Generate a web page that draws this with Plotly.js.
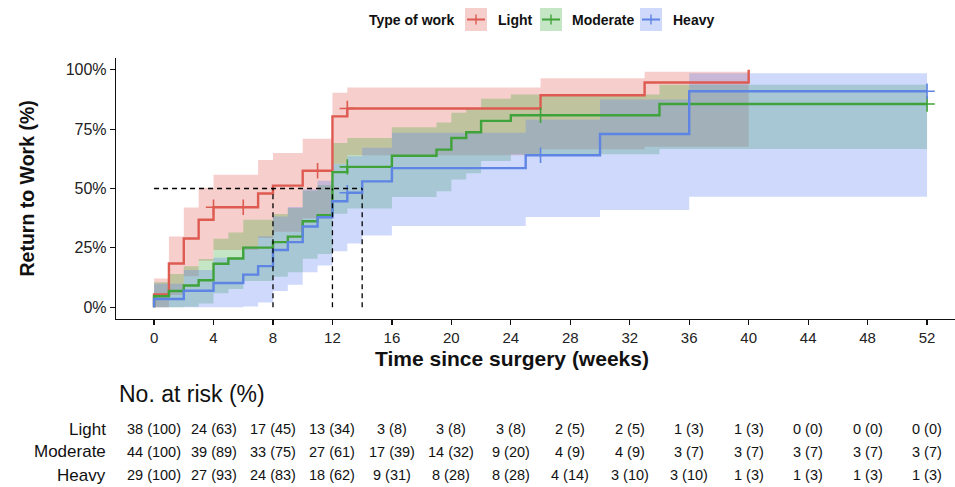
<!DOCTYPE html>
<html><head><meta charset="utf-8">
<script src="https://cdn.plot.ly/plotly-3.0.1.min.js"></script>
<style>html,body{margin:0;padding:0;background:#fff}#chart{width:955px;height:487px}</style>
</head><body><div id="chart"></div>
<script>
// ---- data ----
const groups = ['Light', 'Moderate', 'Heavy'];

// Kaplan-Meier (cumulative return to work, %) step points
const lightT = [0, 0, 1, 2, 3, 4, 7, 8, 10, 12, 13, 26, 33, 40];
const lightV = [0, 5.3, 18.4, 28.9, 36.8, 42.1, 47.9, 51.2, 57.5, 80.4, 83.7, 89.3, 94.7, 100];
const moderateT = [0, 0, 1, 2, 3, 4, 5, 6, 8, 9, 10, 11, 12, 13, 16, 19, 20, 21, 22, 24, 34, 52];
const moderateV = [0, 4.6, 6.8, 9.1, 11.3, 18.3, 20.5, 25.1, 27.4, 29.7, 36.2, 38.7, 56.9, 59.1, 63.8, 66.4, 71.3, 73.7, 78.5, 80.9, 85.6, 85.6];
const heavyT = [0, 0, 2, 4, 6, 7, 8, 9, 10, 11, 12, 13, 14, 16, 25, 30, 36, 52];
const heavyV = [0, 3.4, 6.9, 10.2, 13.7, 17.3, 24.1, 27.4, 34.0, 37.9, 44.6, 48.2, 53.0, 58.6, 64.0, 73.0, 91.0, 91.0];

// confidence bands (%) per step
const lightBandT = [0, 1, 2, 3, 4, 7, 8, 10, 12, 13, 26, 33, 40];
const lightLow = [0, 5.1, 13.0, 19.5, 24.1, 29.1, 31.8, 37.5, 60.4, 64.0, 66.5, 67.6, 67.6];
const lightUp = [12.1, 29.8, 42.0, 50.3, 55.8, 62.0, 65.0, 71.0, 90.4, 92.6, 96.5, 99.2, 99.2];
const moderateBandT = [0, 1, 2, 3, 4, 5, 6, 8, 9, 10, 11, 12, 13, 16, 19, 20, 21, 22, 24, 34, 52];
const moderateLow = [0, 0, 0.2, 1.5, 5.9, 7.6, 11.0, 12.8, 14.7, 20.4, 22.4, 39.4, 41.6, 46.4, 48.8, 53.8, 56.4, 61.6, 64.4, 66.7, 66.7];
const moderateUp = [10.5, 14.0, 17.2, 20.3, 28.8, 31.5, 36.8, 39.3, 41.8, 49.1, 51.5, 69.2, 71.3, 75.8, 77.8, 81.9, 83.9, 87.8, 89.6, 93.7, 93.7];
const heavyBandT = [0, 2, 4, 6, 7, 8, 9, 10, 11, 12, 13, 14, 16, 25, 30, 36, 52];
const heavyLow = [0, 0, 0, 0.3, 2.0, 6.8, 9.4, 14.7, 17.5, 23.6, 26.8, 30.2, 34.2, 38.0, 40.9, 46.5, 46.5];
const heavyUp = [9.9, 15.7, 20.8, 25.5, 29.9, 38.2, 42.2, 49.7, 53.3, 60.3, 63.6, 67.2, 73.5, 79.0, 87.5, 98.6, 98.6];

// censoring marks
const lightCensT = [4, 6, 11, 13];
const lightCensV = [42.1, 42.1, 57.5, 83.7];
const moderateCensT = [13, 26, 52];
const moderateCensV = [59.1, 80.9, 85.6];
const heavyCensT = [13, 26, 52];
const heavyCensV = [48.2, 64.0, 91.0];

// median return-to-work times (weeks) at 50%
const medianWeeks = [8, 12, 14];
const medianLevel = 50;

// axis ticks
const yTickVals = [0, 25, 50, 75, 100];
const yTickText = ['0%', '25%', '50%', '75%', '100%'];

// number at risk table
const riskWeeks = [0, 4, 8, 12, 16, 20, 24, 28, 32, 36, 40, 44, 48, 52];
const lightRisk = ['38 (100)', '24 (63)', '17 (45)', '13 (34)', '3 (8)', '3 (8)', '3 (8)', '2 (5)', '2 (5)', '1 (3)', '1 (3)', '0 (0)', '0 (0)', '0 (0)'];
const moderateRisk = ['44 (100)', '39 (89)', '33 (75)', '27 (61)', '17 (39)', '14 (32)', '9 (20)', '4 (9)', '4 (9)', '3 (7)', '3 (7)', '3 (7)', '3 (7)', '3 (7)'];
const heavyRisk = ['29 (100)', '27 (93)', '24 (83)', '18 (62)', '9 (31)', '8 (28)', '8 (28)', '4 (14)', '3 (10)', '3 (10)', '1 (3)', '1 (3)', '1 (3)', '1 (3)'];

// ---- styling ----
const lineColors = ['#DE5B52', '#3FA23A', '#5E84E4'];
const fillColors = ['rgba(226,92,82,0.30)', 'rgba(62,172,58,0.30)', 'rgba(96,128,246,0.30)'];
const FONT = 'Liberation Sans, Arial, sans-serif';

const km = [[lightT, lightV], [moderateT, moderateV], [heavyT, heavyV]];
const bands = [[lightBandT, lightLow, lightUp], [moderateBandT, moderateLow, moderateUp], [heavyBandT, heavyLow, heavyUp]];
const cens = [[lightCensT, lightCensV], [moderateCensT, moderateCensV], [heavyCensT, heavyCensV]];
const risks = [lightRisk, moderateRisk, heavyRisk];

const traces = [];
groups.forEach((g, i) => {
  traces.push({x: bands[i][0], y: bands[i][1], type: 'scatter', mode: 'lines', line: {width: 0, shape: 'hv'},
    hoverinfo: 'skip', showlegend: false, legendgroup: g, name: g + ' lower'});
  traces.push({x: bands[i][0], y: bands[i][2], type: 'scatter', mode: 'lines', line: {width: 0, shape: 'hv'},
    fill: 'tonexty', fillcolor: fillColors[i], hoverinfo: 'skip', showlegend: false, legendgroup: g, name: g + ' upper'});
});
groups.forEach((g, i) => {
  traces.push({x: km[i][0], y: km[i][1], type: 'scatter', mode: 'lines', name: g, legendgroup: g, showlegend: false,
    line: {color: lineColors[i], width: 2.4, shape: 'hv'}});
});
groups.forEach((g, i) => {
  traces.push({x: cens[i][0], y: cens[i][1], type: 'scatter', mode: 'markers', name: g + ' censored', legendgroup: g, showlegend: false,
    marker: {symbol: 'cross-thin-open', size: 11, color: lineColors[i], line: {color: lineColors[i], width: 1.6}}});
});
// median dashed guide lines
const dashX = [0, Math.max(...medianWeeks)], dashY = [medianLevel, medianLevel];
medianWeeks.forEach(w => { dashX.push(null, w, w); dashY.push(null, 0, medianLevel); });
traces.push({x: dashX, y: dashY, type: 'scatter', mode: 'lines', showlegend: false, hoverinfo: 'skip',
  line: {color: '#000', width: 1.3, dash: '5px,4px'}});

// px -> paper helpers for layout placement (plot area: left 116, right 955, top 58, bottom 319)
const PL = 116, PR = 955, PT = 58, PB = 319;
const px = v => (v - PL) / (PR - PL);
const py = v => (PB - v) / (PB - PT);

const annotations = [];
// axis titles
annotations.push({text: '<b>Time since surgery (weeks)</b>', xref: 'paper', yref: 'paper', x: px(512), y: py(358), xanchor: 'center', yanchor: 'middle',
  showarrow: false, font: {family: FONT, size: 21, color: '#111'}});
annotations.push({text: '<b>Return to Work (%)</b>', xref: 'paper', yref: 'paper', x: px(26), y: py(188.5), xanchor: 'center', yanchor: 'middle',
  textangle: -90, showarrow: false, font: {family: FONT, size: 19.5, color: '#111'}});
// risk table
annotations.push({text: 'No. at risk (%)', xref: 'paper', yref: 'paper', x: px(117), y: py(394), xanchor: 'left', yanchor: 'middle',
  showarrow: false, font: {family: FONT, size: 23, color: '#111'}});
const rowY = [429, 452, 475];
groups.forEach((g, i) => {
  annotations.push({text: g, xref: 'paper', yref: 'paper', x: px(108), y: py(rowY[i]), xanchor: 'right', yanchor: 'middle',
    showarrow: false, font: {family: FONT, size: 17, color: '#111'}});
  riskWeeks.forEach((w, j) => {
    annotations.push({text: risks[i][j], xref: 'x', yref: 'paper', x: w, y: py(rowY[i]), xanchor: 'center', yanchor: 'middle',
      showarrow: false, font: {family: FONT, size: 14.5, color: '#111'}});
  });
});
// legend (drawn manually to mimic ggplot keys)
const legY = 19.5;
annotations.push({text: '<b>Type of work</b>', xref: 'paper', yref: 'paper', x: px(457), y: py(legY), xanchor: 'right', yanchor: 'middle',
  showarrow: false, font: {family: FONT, size: 14, color: '#111'}});
const keyX = [465, 540, 640], labX = [496, 570, 671];
const shapes = [];
groups.forEach((g, i) => {
  shapes.push({type: 'rect', xref: 'paper', yref: 'paper', x0: px(keyX[i]), x1: px(keyX[i] + 22), y0: py(legY + 11.5), y1: py(legY - 11.5),
    fillcolor: fillColors[i], line: {width: 0}});
  shapes.push({type: 'line', xref: 'paper', yref: 'paper', x0: px(keyX[i] + 2), x1: px(keyX[i] + 20), y0: py(legY), y1: py(legY),
    line: {color: lineColors[i], width: 2}});
  shapes.push({type: 'line', xref: 'paper', yref: 'paper', x0: px(keyX[i] + 11), x1: px(keyX[i] + 11), y0: py(legY - 5), y1: py(legY + 5),
    line: {color: lineColors[i], width: 1.4}});
  annotations.push({text: '<b>' + g + '</b>', xref: 'paper', yref: 'paper', x: px(labX[i]), y: py(legY), xanchor: 'left', yanchor: 'middle',
    showarrow: false, font: {family: FONT, size: 14, color: '#111'}});
});

const layout = {
  width: 955, height: 487,
  margin: {l: PL, r: 955 - PR, t: PT, b: 487 - PB, pad: 0},
  paper_bgcolor: '#fff', plot_bgcolor: '#fff',
  font: {family: FONT, color: '#111'},
  showlegend: false,
  xaxis: {range: [-2.56, 53.88], tickmode: 'array', tickvals: riskWeeks, ticktext: riskWeeks.map(String), ticks: 'outside', ticklen: 5, tickwidth: 1.2, tickcolor: '#111',
    showline: true, linecolor: '#111', linewidth: 1.2, showgrid: false, zeroline: false,
    tickfont: {family: FONT, size: 15, color: '#222'}},
  yaxis: {range: [-5, 105], tickmode: 'array', tickvals: yTickVals, ticktext: yTickText, ticks: 'outside', ticklen: 5, tickwidth: 1.2, tickcolor: '#111',
    showline: true, linecolor: '#111', linewidth: 1.2, showgrid: false, zeroline: false,
    tickfont: {family: FONT, size: 16, color: '#222'}},
  annotations: annotations,
  shapes: shapes
};

Plotly.newPlot('chart', traces, layout, {displayModeBar: false, staticPlot: true});
</script>
</body></html>
